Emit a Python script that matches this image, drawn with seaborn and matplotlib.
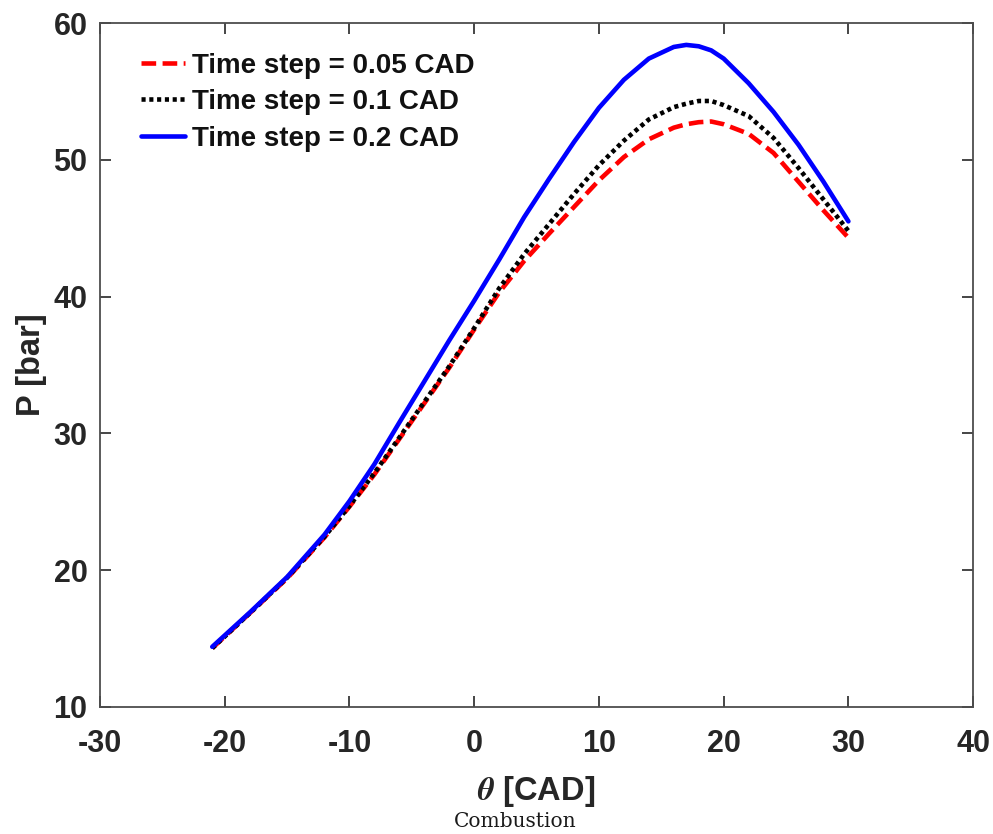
import matplotlib
matplotlib.use("Agg")
import matplotlib.pyplot as plt
import seaborn as sns

# crank angle positions (CAD) and pressures (bar)
theta = [-21, -18, -15, -12, -10, -8, -6, -4, -2, 0, 2, 4, 6, 8, 10, 12, 14, 16, 17,
         18, 19, 20, 22, 24, 26, 28, 30]

p_dt005 = [14.3, 16.85, 19.4, 22.4, 24.65, 27.0, 29.6, 32.2, 34.8, 37.6, 40.3, 42.6, 44.6,
           46.55, 48.5, 50.2, 51.5, 52.35, 52.6, 52.75, 52.8, 52.6, 51.9, 50.5, 48.4,
           46.3, 44.3]
p_dt01 = [14.3, 16.85, 19.45, 22.45, 24.7, 27.1, 29.7, 32.3, 34.9, 37.7, 40.6, 43.1, 45.3,
          47.5, 49.6, 51.4, 52.95, 53.85, 54.1, 54.3, 54.3, 54.0, 53.2, 51.6, 49.4,
          47.1, 44.8]
p_dt02 = [14.4, 16.9, 19.5, 22.6, 25.05, 27.75, 30.8, 33.8, 36.8, 39.7, 42.7, 45.8, 48.6,
          51.3, 53.8, 55.85, 57.4, 58.25, 58.4, 58.3, 58.0, 57.4, 55.6, 53.5, 51.1,
          48.4, 45.5]

series_labels = ["Time step = 0.05 CAD", "Time step = 0.1 CAD", "Time step = 0.2 CAD"]
x_ticks = [-30, -20, -10, 0, 10, 20, 30, 40]
y_ticks = [10, 20, 30, 40, 50, 60]

sns.set_theme(style="white")
plt.rcParams["font.family"] = ["Liberation Sans", "DejaVu Sans"]
plt.rcParams["font.weight"] = "bold"
plt.rcParams["axes.labelweight"] = "bold"
plt.rcParams["axes.unicode_minus"] = False
plt.rcParams["mathtext.fontset"] = "stix"

fig = plt.figure(figsize=(9.93, 8.34), dpi=100)
ax = fig.add_axes([0.1007, 0.1523, 0.8793, 0.8201])

styles = [
    ("#FF0000", (0, (3.2, 1.4))),
    ("#000000", (0, (0.9, 0.8))),
    ("#0000FF", "-"),
]
for values, label, (color, ls) in zip([p_dt005, p_dt01, p_dt02], series_labels, styles):
    sns.lineplot(x=theta, y=values, color=color, linestyle=ls, linewidth=3.3,
                 label=label, sort=False, estimator=None, ax=ax,
                 solid_joinstyle="round", dash_joinstyle="round")

ax.set_xlim(-30, 40)
ax.set_ylim(10, 60)
ax.set_xticks(x_ticks)
ax.set_yticks(y_ticks)
ax.tick_params(direction="in", length=8, width=1.2, top=True, right=True,
               bottom=True, left=True, labelsize=22, colors="#262626")
ax.tick_params(axis="x", pad=16)
ax.tick_params(axis="y", pad=9)
for lbl in ax.get_xticklabels() + ax.get_yticklabels():
    lbl.set_fontweight("bold")
for spine in ax.spines.values():
    spine.set_color("#4d4d4d")
    spine.set_linewidth(1.3)

ax.set_xlabel(r"$\theta$ [CAD]", fontsize=23.5, fontweight="bold", color="#262626", labelpad=11)
ax.set_ylabel("P [bar]", fontsize=23.5, fontweight="bold", color="#262626", labelpad=5)

leg = ax.legend(loc="upper left", frameon=False, fontsize=20, handlelength=1.6,
                handletextpad=0.25, labelspacing=0.38, borderaxespad=0.0,
                bbox_to_anchor=(0.034, 0.973))
for txt in leg.get_texts():
    txt.set_fontweight("bold")
    txt.set_color("#111111")

fig.text(0.519, 0.004, "Combustion", ha="center", va="bottom", fontsize=14.5,
         family=["DejaVu Serif"], fontweight="normal", color="#1a1a1a")

fig.savefig("out.png", dpi=100)
plt.close(fig)
